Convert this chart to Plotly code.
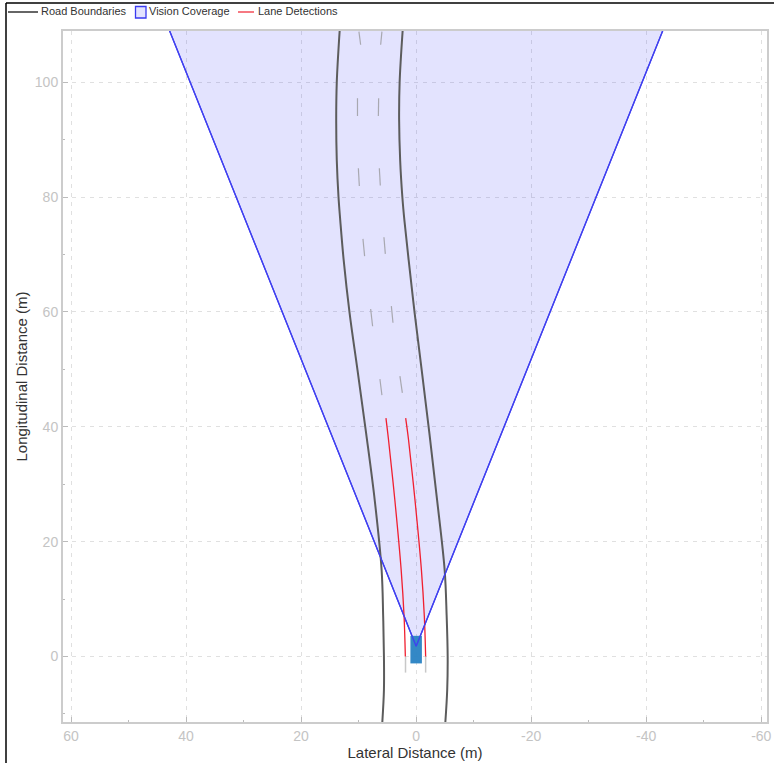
import plotly.graph_objects as go

# Road boundaries (lateral m, longitudinal m)
road_y = [-11.4, -5.8, 0, 7.2, 15, 27.2, 38.9, 49.9, 59.8, 69, 76, 80, 86.4, 93.4, 100, 108.9]
road_left_x = [5.88, 5.6, 5.6, 5.74, 6.0, 7.2, 8.7, 10.2, 11.57, 12.6, 13.2, 13.5, 13.8, 13.9, 13.8, 13.3]
road_right_x = [-5.08, -5.4, -5.48, -5.3, -4.96, -3.65, -2.3, -0.96, 0.26, 1.3, 2.05, 2.4, 2.78, 2.96, 2.87, 2.35]

# Lane-marking dashes
dash_x = [9.95, 9.65, None, 5.95, 6.17, None, 10.2, 10.2, None, 6.52, 6.57, None,
          10.05, 9.88, None, 6.4, 6.23, None, 9.25, 8.96, None, 5.6, 5.36, None,
          7.91, 7.57, None, 4.31, 4.03, None, 6.3, 5.95, None, 2.82, 2.4]
dash_y = [108.8, 106.5, None, 108.8, 106.5, None, 97.2, 94.1, None, 97.2, 94.1, None,
          85.0, 81.9, None, 85.0, 82.0, None, 72.7, 69.7, None, 73.0, 70.1, None,
          60.5, 57.5, None, 61.0, 58.1, None, 48.3, 45.5, None, 48.8, 45.9]
stub_x = [1.85, 1.85, None, -1.65, -1.65]
stub_y = [0, -2.8, None, 0, -2.8]

# Vision coverage wedge
vision_x = [59.3, 0.0, -59.3]
vision_y = [150, 1.8, 150]

# Lane detections
lane_y = [0, 7, 15, 27.2, 37.7, 41.5]
lane_left_x = [1.88, 2.1, 2.6, 3.7, 4.8, 5.25]
lane_right_x = [-1.65, -1.42, -0.92, 0.2, 1.32, 1.82]

# Ego vehicle
car_x = [1.0, -1.0, -1.0, 1.0, 1.0]
car_y = [-1.2, -1.2, 3.6, 3.6, -1.2]

x_ticks = [60, 40, 20, 0, -20, -40, -60]
y_ticks = [0, 20, 40, 60, 80, 100]
legend_labels = ["Road Boundaries", "Vision Coverage", "Lane Detections"]

FONT = "Liberation Sans, Arial, sans-serif"
L, T, W, H = 63, 31, 704, 691


def px(v):
    return (v - L) / W


def py(v):
    return 1 - (v - T) / H


fig = go.Figure()
fig.add_trace(go.Scatter(x=vision_x, y=vision_y, mode="lines", fill="toself",
                         fillcolor="rgba(60,60,245,0.14)", line=dict(color="#4040f0", width=1.3),
                         name=legend_labels[1], showlegend=False))
fig.add_trace(go.Scatter(x=road_left_x, y=road_y, mode="lines", line=dict(color="#5c5c5c", width=2, shape="spline"),
                         name=legend_labels[0], showlegend=False))
fig.add_trace(go.Scatter(x=road_right_x, y=road_y, mode="lines", line=dict(color="#5c5c5c", width=2, shape="spline"),
                         name=legend_labels[0], showlegend=False))
fig.add_trace(go.Scatter(x=dash_x, y=dash_y, mode="lines", line=dict(color="#a8a8b0", width=1.2), showlegend=False))
fig.add_trace(go.Scatter(x=stub_x, y=stub_y, mode="lines", line=dict(color="#c8c8c8", width=1.5), showlegend=False))
fig.add_trace(go.Scatter(x=car_x, y=car_y, mode="lines", fill="toself", fillcolor="rgba(40,130,195,0.95)",
                         line=dict(width=0), showlegend=False))
fig.add_trace(go.Scatter(x=lane_left_x, y=lane_y, mode="lines", line=dict(color="#f02030", width=1.3, shape="spline"),
                         name=legend_labels[2], showlegend=False))
fig.add_trace(go.Scatter(x=lane_right_x, y=lane_y, mode="lines", line=dict(color="#f02030", width=1.3, shape="spline"),
                         name=legend_labels[2], showlegend=False))
# wedge apex redrawn above the vehicle
fig.add_trace(go.Scatter(x=vision_x, y=vision_y, mode="lines", line=dict(color="#4040f0", width=1.3), showlegend=False))

axis = dict(showline=True, linecolor="#cccccc", linewidth=2, mirror=True, ticks="inside", ticklen=5,
            tickcolor="#bbbbbb", tickwidth=1, showgrid=True, gridcolor="#e0e0e0", griddash="4px,5px",
            gridwidth=1, zeroline=False, automargin=False, tickfont=dict(family=FONT, size=14, color="#c4c4c4"),
            minor=dict(ticks="inside", ticklen=2, dtick=10, tickcolor="#bbbbbb", showgrid=False))


def legend_text(s, x):
    return dict(text=s, xref="paper", yref="paper", x=px(x), y=py(11), xanchor="left", yanchor="middle",
                showarrow=False, borderpad=0, font=dict(family=FONT, size=11, color="#333333"))


fig.update_layout(
    width=774, height=763, margin=dict(l=L, r=774 - L - W, t=T, b=763 - T - H), paper_bgcolor="white", plot_bgcolor="white",
    font=dict(family=FONT, color="#333333"), showlegend=False,
    xaxis=dict(axis, range=[61.4, -61], tickvals=x_ticks, ticktext=[str(v) for v in x_ticks],
               title=dict(text="Lateral Distance (m)", standoff=1, font=dict(family=FONT, size=15, color="#333333"))),
    yaxis=dict(axis, range=[-11.4, 108.9], tickvals=y_ticks, ticktext=[str(v) for v in y_ticks],
               title=dict(text="Longitudinal Distance (m)", standoff=4, font=dict(family=FONT, size=15, color="#333333"))),
    annotations=[legend_text(legend_labels[0], 40), legend_text(legend_labels[1], 148), legend_text(legend_labels[2], 257)],
    shapes=[
        dict(type="line", xref="paper", yref="paper", x0=px(6), x1=px(6), y0=py(763), y1=py(3), line=dict(color="black", width=1.5)),
        dict(type="line", xref="paper", yref="paper", x0=px(6), x1=px(774), y0=py(3), y1=py(3), line=dict(color="black", width=1.5)),
        dict(type="line", xref="paper", yref="paper", x0=px(8), x1=px(38), y0=py(12), y1=py(12), line=dict(color="black", width=1.2)),
        dict(type="rect", xref="paper", yref="paper", x0=px(135.5), x1=px(146), y0=py(6.5), y1=py(18), fillcolor="rgba(60,60,245,0.14)", line=dict(color="#3a3af0", width=1.3)),
        dict(type="line", xref="paper", yref="paper", x0=px(238), x1=px(254), y0=py(12), y1=py(12), line=dict(color="#f02030", width=1.2)),
    ],
)
fig.write_html("out.html", config=dict(displayModeBar=False), post_script="document.body.style.margin='0';")
